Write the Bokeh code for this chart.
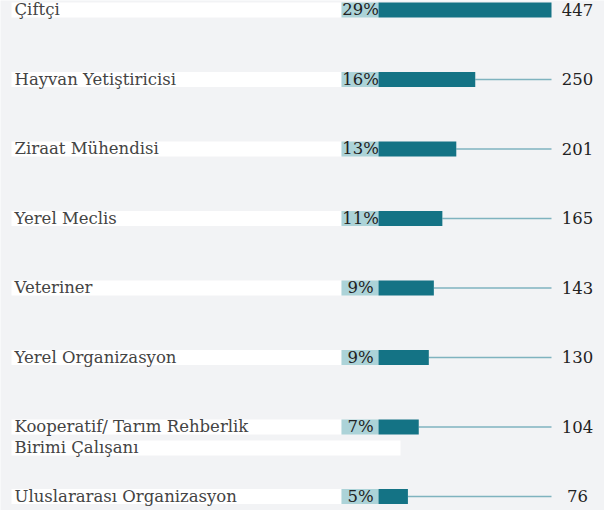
from bokeh.plotting import figure
from bokeh.models import Range1d, ColumnDataSource
from bokeh.core.properties import value
from bokeh.embed import file_html
from bokeh.resources import INLINE

# ---- data ----
categories = ["Çiftçi", "Hayvan Yetiştiricisi", "Ziraat Mühendisi", "Yerel Meclis",
              "Veteriner", "Yerel Organizasyon",
              "Kooperatif/ Tarım Rehberlik\nBirimi Çalışanı", "Uluslararası Organizasyon"]
counts = [447, 250, 201, 165, 143, 130, 104, 76]
percents = ["29%", "16%", "13%", "11%", "9%", "9%", "7%", "5%"]

# ---- layout (pixels) ----
W, H = 604, 510
BAR_X0, BAR_X1 = 378, 551
k = (BAR_X1 - BAR_X0) / max(counts)
def px(xp):
    return (xp - BAR_X0) / k

ROW0, STEP = 9.5, 69.5
BH = 15 / STEP
TOFF = -0.5

BG = "#f2f3f5"
DARK = "#147385"
LIGHT = "#acd3d8"
LINE = "#7fb3bf"
TXT = "#444444"
FONT = "DejaVu Serif"
FS = "16.5px"

idx = list(range(len(categories)))
maxc = max(counts)

p = figure(width=W, height=H, output_backend="svg", toolbar_location=None,
           x_range=Range1d(px(0), px(W)),
           y_range=Range1d((H - ROW0) / STEP, -ROW0 / STEP),
           min_border=0, background_fill_color=BG, border_fill_color=BG,
           outline_line_color=None)
p.axis.visible = False
p.grid.visible = False

first_lines = [c.split("\n")[0] for c in categories]
src = ColumnDataSource(dict(y=idx, c=counts, pct=percents, lab=first_lines,
                            cmax=[maxc] * len(idx),
                            ctxt=[str(c) for c in counts]))

# white label bands
p.hbar(y="y", left=px(11), right=px(341), height=BH, source=src,
       fill_color="white", line_color=None)
# second-line bands
y2, lab2 = [], []
for i, c in enumerate(categories):
    parts = c.split("\n")
    if len(parts) > 1:
        y2.append(i + 21 / STEP)
        lab2.append(parts[1])
src2 = ColumnDataSource(dict(y=y2, lab=lab2))
p.hbar(y="y", left=px(11), right=px(400), height=BH, source=src2,
       fill_color="white", line_color=None)

# percent boxes
p.hbar(y="y", left=px(341), right=0, height=BH, source=src,
       fill_color=LIGHT, line_color=None)
# connector lines
p.segment(x0="c", x1="cmax", y0="y", y1="y", source=src,
          line_color=LINE, line_width=1.6)
# bars
p.hbar(y="y", left=0, right="c", height=BH, source=src,
       fill_color=DARK, line_color=None)

# label texts
p.text(x=px(14), y="y", text="lab", source=src, y_offset=TOFF,
       text_baseline="alphabetic", text_align="left",
       text_font=value(FONT), text_font_size=FS, text_color=TXT)
p.text(x=px(14), y="y", text="lab", source=src2, y_offset=TOFF,
       text_baseline="alphabetic", text_align="left",
       text_font=value(FONT), text_font_size=FS, text_color=TXT)
# percent texts
p.text(x=px(360), y="y", text="pct", source=src, y_offset=TOFF,
       text_baseline="alphabetic", text_align="center",
       text_font=value(FONT), text_font_size=FS, text_color="#222222")
# count texts
p.text(x=px(577), y="y", text="ctxt", source=src, y_offset=TOFF,
       text_baseline="alphabetic", text_align="center",
       text_font=value(FONT), text_font_size=FS, text_color="#222222")

open("out.html", "w").write(file_html(p, INLINE))
